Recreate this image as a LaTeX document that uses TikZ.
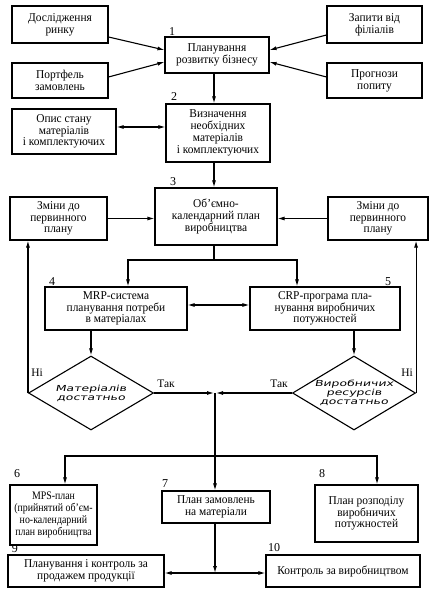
\documentclass[tikz,border=0pt]{standalone}
\usepackage{fontspec}
\setmainfont{Liberation Serif}
\newfontfamily\boxfont[FakeStretch=0.95]{Liberation Serif}
\newfontfamily\narrowfont[FakeStretch=0.86]{Liberation Serif}
\newfontfamily\diafont[FakeStretch=1.5,FakeSlant=0.2]{DejaVu Sans}
\usetikzlibrary{arrows.meta,shapes.geometric}
\begin{document}
\begin{tikzpicture}[x=1pt,y=-1pt,
  bx/.style={draw,line width=1.1pt,align=center,inner sep=0pt,
    font=\boxfont\fontsize{12}{11.8}\selectfont},
  dia/.style={draw,line width=1.1pt,shape=diamond,inner sep=0pt,align=center,
    font=\diafont\fontsize{8.3}{9}\selectfont},
  num/.style={font=\fontsize{12}{12}\selectfont,inner sep=0pt},
  lab/.style={font=\fontsize{11.5}{12}\selectfont,inner sep=0pt},
  arr/.style={line width=1.1pt,-{Latex[length=7pt,width=4pt]}},
  darr/.style={line width=1.1pt,{Latex[length=7pt,width=4pt]}-{Latex[length=7pt,width=4pt]}},
  ln/.style={line width=1.1pt}]
\useasboundingbox (0,0) rectangle (433,593);
% top row
\node[bx,minimum width=96pt,minimum height=37pt] (b1) at (60,24.5) {Дослідження\\ринку};
\node[bx,minimum width=95pt,minimum height=37pt] (b2) at (374.5,24.5) {Запити від\\філіалів};
\node[bx,minimum width=104pt,minimum height=36pt] (p1) at (217,55) {Планування\\розвитку бізнесу};
\node[bx,minimum width=96pt,minimum height=35pt] (b3) at (60,80.5) {Портфель\\замовлень};
\node[bx,minimum width=95pt,minimum height=35pt] (b4) at (374.5,80.5) {Прогнози\\попиту};
\node[bx,minimum width=104pt,minimum height=58pt] (p2) at (218,133) {Визначення\\необхідних\\матеріалів\\і комплектуючих};
\node[bx,minimum width=104pt,minimum height=45pt] (b5) at (64,131.5) {Опис стану\\матеріалів\\і комплектуючих};
\node[bx,minimum width=122pt,minimum height=57pt] (p3) at (216,216.5) {Об’ємно-\\календарний план\\виробництва};
\node[bx,minimum width=97pt,minimum height=43pt] (z1) at (58.5,218.5) {Зміни до\\первинного\\плану};
\node[bx,minimum width=100pt,minimum height=43pt] (z2) at (378,218.5) {Зміни до\\первинного\\плану};
\node[bx,minimum width=142pt,minimum height=43pt] (mrp) at (116,308.5) {MRP-система\\планування потреби\\в матеріалах};
\node[bx,minimum width=150pt,minimum height=43pt] (crp) at (325,308.5) {CRP-програма пла-\\нування виробничих\\потужностей};
\node[dia,minimum width=125pt,minimum height=74pt,aspect=1.69] (d1) at (91,393) {Матеріалів\\достатньо};
\node[dia,minimum width=123pt,minimum height=74pt,aspect=1.66] (d2) at (354,393) {Виробничих\\ресурсів\\достатньо};
\node[bx,font=\narrowfont\fontsize{11.5}{11.8}\selectfont,minimum width=87pt,minimum height=60pt] (mps) at (53.5,515) {MPS-план\\(прийнятий об’єм-\\но-календарний\\план виробництва};
\node[bx,minimum width=108pt,minimum height=32pt] (p7) at (216,507) {План замовлень\\на матеріали};
\node[bx,minimum width=103pt,minimum height=57pt] (p8) at (366.5,513.5) {План розподілу\\виробничих\\потужностей};
\node[bx,minimum width=156pt,minimum height=32pt] (p9) at (86,571) {Планування і контроль за\\продажем продукції};
\node[bx,minimum width=154pt,minimum height=32pt] (p10) at (343,571) {Контроль за виробництвом};
% numbers
\node[num] (n1) at (172,32) {1};
\node[num] (n2) at (174,97) {2};
\node[num] (n3) at (173,182) {3};
\node[num] (n4) at (52,282) {4};
\node[num] (n5) at (388,282) {5};
\node[num] (n6) at (17,474) {6};
\node[num] (n7) at (165,484) {7};
\node[num] (n8) at (322,474) {8};
\node[num] (n9) at (15,549) {9};
\node[num] (n10) at (274,548) {10};
% labels
\node[lab] (ni1) at (37,373) {Ні};
\node[lab] (ni2) at (407,373) {Ні};
\node[lab] (tak1) at (166,384) {Так};
\node[lab] (tak2) at (279,384) {Так};
% connectors top
\draw[arr] (b1.east |- 0,37) -- (p1.west |- 0,50);
\draw[arr] (b3.east |- 0,77) -- (p1.west |- 0,62);
\draw[arr] (b2.west |- 0,35) -- (p1.east |- 0,50);
\draw[arr] (b4.west |- 0,77) -- (p1.east |- 0,62);
\draw[arr] (p1.south -| 214,0) -- (p2.north -| 214,0);
\draw[darr] (b5.east |- 0,127) -- (p2.west |- 0,127);
\draw[arr] (p2.south -| 214,0) -- (p3.north -| 214,0);
\draw[arr] (z1.east) -- (p3.west |- z1.east);
\draw[arr] (z2.west) -- (p3.east |- z2.west);
% split to MRP / CRP
\coordinate (s1) at (214,260);
\draw[ln] (p3.south -| 214,0) -- (s1);
\draw[arr] (s1) -| (mrp.north -| 128,0);
\draw[arr] (s1) -| (crp.north -| 297,0);
\draw[darr] (mrp.east |- 0,305) -- (crp.west |- 0,305);
\draw[arr] (mrp.south -| d1.north) -- (d1.north);
\draw[arr] (crp.south -| d2.north) -- (d2.north);
\draw[arr] (d1.west) -- (d1.west |- z1.south);
\draw[arr] (d2.east) -- (d2.east |- z2.south);
% junction
\coordinate (j) at (215,393);
\draw[arr] (d1.east) -- ([xshift=-1pt]j);
\draw[arr] (d2.west) -- ([xshift=1pt]j);
\coordinate (s2) at (215,456);
\draw[ln] (j) -- (s2);
\draw[arr] (s2) -- (p7.north -| s2);
\draw[arr] (s2) -| (mps.north -| 65,0);
\draw[arr] (s2) -| (p8.north -| 377,0);
\coordinate (k) at (215,573);
\draw[arr] (p7.south -| k) -- (k);
\draw[arr] (k) -- (p9.east |- k);
\draw[arr] (k) -- (p10.west |- k);
\end{tikzpicture}
\end{document}
